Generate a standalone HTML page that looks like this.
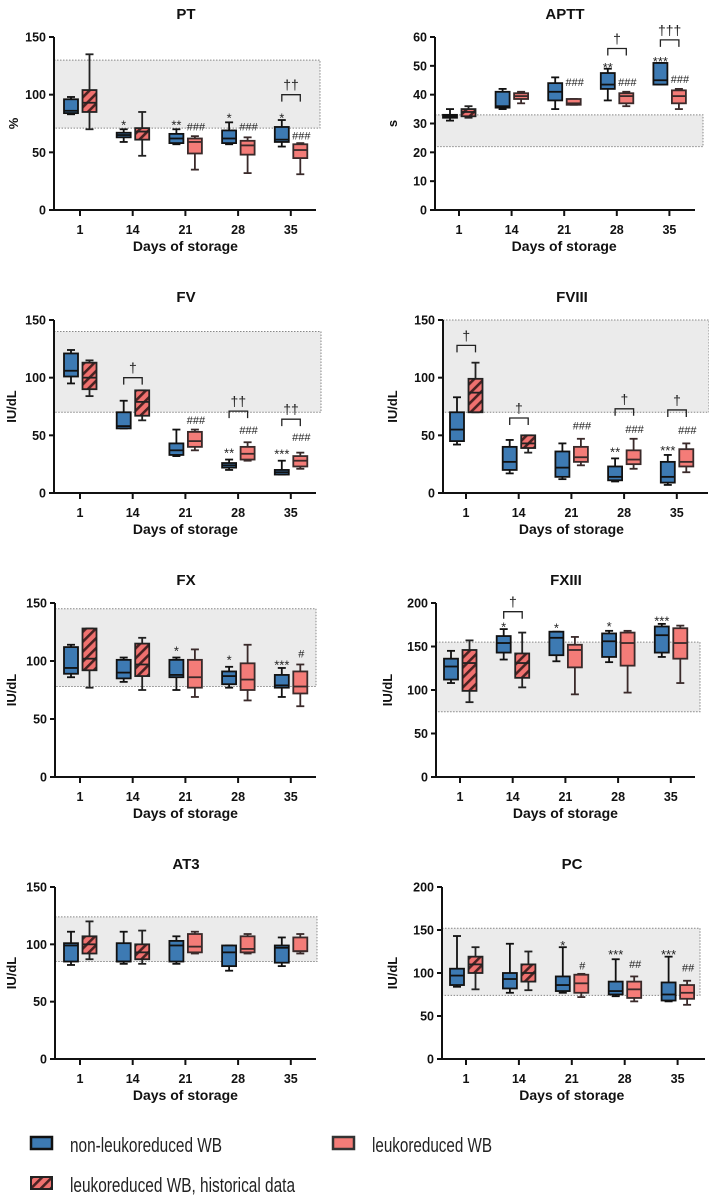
<!DOCTYPE html>
<html><head><meta charset="utf-8"><style>
html,body{margin:0;padding:0;background:#fff;}
svg{display:block;font-family:"Liberation Sans",Arial,sans-serif;}
</style></head><body>
<svg id="fig" width="709" height="1197" viewBox="0 0 709 1197" xmlns="http://www.w3.org/2000/svg">
<defs>
<pattern id="hatch" patternUnits="userSpaceOnUse" width="7" height="7" patternTransform="rotate(45)">
<rect width="7" height="7" fill="#f0716f"/><rect width="2.6" height="7" fill="#4a2222"/>
</pattern>
</defs>
<g id="panels"></g>
<g>
<rect x="31" y="1137" width="21" height="12" fill="#3d7ab3" stroke="#111" stroke-width="2.5"/>
<text x="70" y="1152" font-size="20" textLength="152" lengthAdjust="spacingAndGlyphs" fill="#222">non-leukoreduced WB</text>
<rect x="31" y="1177" width="21" height="12" fill="url(#hatch)" stroke="#222" stroke-width="2"/>
<text x="70" y="1192" font-size="20" textLength="225" lengthAdjust="spacingAndGlyphs" fill="#222">leukoreduced WB, historical data</text>
<rect x="333" y="1137" width="21" height="12" fill="#f47c78" stroke="#333" stroke-width="2.5"/>
<text x="372" y="1152" font-size="20" textLength="120" lengthAdjust="spacingAndGlyphs" fill="#222">leukoreduced WB</text>
</g>
</svg>
<script>
const days = ["1","14","21","28","35"];
// each box: [min, q1, median, q3, max]
const ptBlue = [[83,84,86,96,98],[59,63,65,67,70],[57,58,62,66,70],[57,58,62,69,76],[55,59,61,72,78]];
const ptRed = [[70,85,93,104,135],[47,61,68,71,85],[35,49,59,62,64],[32,48,56,60,63],[31,45,52,57,58]];
const apttBlue = [[31,32,32.5,33,35],[35,35.5,36,41,42],[35,38,41,44,46],[38,42,43.5,47.5,49],[43.5,43.5,45,51,51]];
const apttRed = [[32,32.5,34,35,36],[37,38.5,39.5,40.5,41],[36.5,36.5,37,38.5,38.5],[36,37,39.5,40.5,41],[35,37,39.5,41.5,42]];
const fvBlue = [[95,101,106,121,124],[56,56,58,70,80],[32,33,37,43,55],[20,22,24,26,29],[16,16,18,20,28]];
const fvRed = [[84,90,100,113,115],[63,67,79,89,89],[37,40,45,53,55],[28,29,34,40,44],[21,23,28,32,35]];
const fviiiBlue = [[42,45,55,70,83],[17,20,27,40,46],[12,14,22,36,43],[10,11,14,23,30],[7,9,14,27,33]];
const fviiiRed = [[70,70,87,99,113],[35,39,43,50,50],[24,27,31,40,47],[21,25,29,37,47],[18,23,27,38,43]];
const fxBlue = [[86,89,94,112,114],[82,85,90,101,103],[75,86,88,101,103],[77,80,87,91,95],[69,77,79,88,94]];
const fxRed = [[77,92,102,128,128],[75,87,97,115,120],[69,77,86,101,110],[66,75,84,98,114],[61,72,78,91,97]];
const fxiiiBlue = [[108,112,127,136,145],[135,143,154,162,170],[133,140,160,167,167],[132,138,156,165,168],[138,143,163,173,176]];
const fxiiiRed = [[86,99,131,146,157],[103,114,131,142,166],[95,126,146,152,161],[97,128,154,166,168],[108,136,154,171,174]];
const at3Blue = [[82,85,99,101,111],[83,85,85,101,111],[83,85,99,103,107],[77,81,93,99,99],[81,84,97,99,106]];
const at3Red = [[87,92,100,107,120],[83,87,93,100,112],[92,93,98,109,111],[92,93,96,107,109],[92,94,94,106,109]];
const pcBlue = [[84,86,97,105,143],[77,82,93,100,134],[77,79,86,96,130],[73,75,79,90,116],[67,68,75,89,119]];
const pcRed = [[81,100,110,119,130],[80,90,100,110,125],[72,77,88,98,99],[67,71,81,90,96],[63,70,77,86,91]];
// reference ranges [low, high]
const ptBand=[71,130], apttBand=[22,33], fvBand=[70,140], fviiiBand=[70,150], fxBand=[78,145], fxiiiBand=[75,155], at3Band=[85,124], pcBand=[74,152];
// annotations: [group, kind(s=blue,p=red,b=bracket), value, text]
const ptAnn=[[1,"s",75,"*"],[2,"s",75,"**"],[2,"p",69,"###"],[3,"s",81,"*"],[3,"p",69,"###"],[4,"s",81,"*"],[4,"p",61,"###"],[4,"b",100,"††"]];
const apttAnn=[[2,"p",43,"###"],[3,"s",50,"**"],[3,"p",43,"###"],[3,"b",56,"†"],[4,"s",52,"***"],[4,"p",44,"###"],[4,"b",59,"†††"]];
const fvAnn=[[1,"b",100,"†"],[2,"p",60,"###"],[3,"s",36,"**"],[3,"p",51,"###"],[3,"b",71,"††"],[4,"s",35,"***"],[4,"p",45,"###"],[4,"b",64,"††"]];
const fviiiAnn=[[0,"b",128,"†"],[1,"b",65,"†"],[2,"p",55,"###"],[3,"s",37,"**"],[3,"p",52,"###"],[3,"b",73,"†"],[4,"s",38,"***"],[4,"p",51,"###"],[4,"b",72,"†"]];
const fxAnn=[[2,"s",110,"*"],[3,"s",102,"*"],[4,"s",98,"***"],[4,"p",103,"#"]];
const fxiiiAnn=[[1,"s",174,"*"],[1,"b",190,"†"],[2,"s",173,"*"],[3,"s",175,"*"],[4,"s",181,"***"]];
const at3Ann=[];
const pcAnn=[[2,"s",134,"*"],[2,"p",104,"#"],[3,"s",123,"***"],[3,"p",106,"##"],[4,"s",123,"***"],[4,"p",102,"##"]];

const panels=[
 {id:"pt",title:"PT",ylab:"%",ymax:150,step:50,blue:ptBlue,red:ptRed,band:ptBand,ann:ptAnn,ax:54,t0:80,dx:52.7,xe:316,br:320,yt:37,yb:210,tx:186,lx:14,hatch:2},
 {id:"aptt",title:"APTT",ylab:"s",ymax:60,step:10,blue:apttBlue,red:apttRed,band:apttBand,ann:apttAnn,ax:435,t0:459,dx:52.6,xe:695,br:703,yt:37,yb:210,tx:565,lx:393,hatch:1},
 {id:"fv",title:"FV",ylab:"IU/dL",ymax:150,step:50,blue:fvBlue,red:fvRed,band:fvBand,ann:fvAnn,ax:54,t0:80,dx:52.7,xe:316,br:321,yt:320,yb:493,tx:186,lx:12,hatch:2},
 {id:"fviii",title:"FVIII",ylab:"IU/dL",ymax:150,step:50,blue:fviiiBlue,red:fviiiRed,band:fviiiBand,ann:fviiiAnn,ax:443,t0:466,dx:52.7,xe:708,br:709,yt:320,yb:493,tx:572,lx:393,hatch:2},
 {id:"fx",title:"FX",ylab:"IU/dL",ymax:150,step:50,blue:fxBlue,red:fxRed,band:fxBand,ann:fxAnn,ax:55,t0:80,dx:52.7,xe:316,br:316,yt:603,yb:777,tx:186,lx:12,hatch:2},
 {id:"fxiii",title:"FXIII",ylab:"IU/dL",ymax:200,step:50,blue:fxiiiBlue,red:fxiiiRed,band:fxiiiBand,ann:fxiiiAnn,ax:436,t0:460,dx:52.7,xe:695,br:700,yt:603,yb:777,tx:566,lx:388,hatch:2},
 {id:"at3",title:"AT3",ylab:"IU/dL",ymax:150,step:50,blue:at3Blue,red:at3Red,band:at3Band,ann:at3Ann,ax:55,t0:80,dx:52.7,xe:316,br:317,yt:887,yb:1059,tx:186,lx:12,hatch:2},
 {id:"pc",title:"PC",ylab:"IU/dL",ymax:200,step:50,blue:pcBlue,red:pcRed,band:pcBand,ann:pcAnn,ax:442,t0:466,dx:52.9,xe:705,br:700,yt:887,yb:1059,tx:572,lx:393,hatch:2}
];
const NS="http://www.w3.org/2000/svg";
function mk(tag,attrs,parent){const e=document.createElementNS(NS,tag);for(const k in attrs)e.setAttribute(k,attrs[k]);parent.appendChild(e);return e;}
const root=document.getElementById("panels");
panels.forEach(p=>{
 const g=mk("g",{},root);
 
 
 const y=v=>p.yb-(v/p.ymax)*(p.yb-p.yt);
 const x=i=>p.t0+i*p.dx;
 // band
 const band=mk("rect",{x:p.ax,y:y(p.band[1]),width:p.br-p.ax,height:y(p.band[0])-y(p.band[1]),fill:"#ebebeb",stroke:"#888","stroke-width":1,"stroke-dasharray":"1.5,1.5"},g);
 
 
 // title
 const t=mk("text",{x:p.tx,y:p.yt-18,"text-anchor":"middle","font-size":15,"font-weight":"bold",fill:"#111"},g);
 t.textContent=p.title;
 
 
 // y label
 const yl=mk("text",{x:0,y:0,"text-anchor":"middle","font-size":13,"font-weight":"bold",fill:"#111",transform:`translate(${p.lx+4},${(p.yt+p.yb)/2}) rotate(-90)`},g);
 yl.textContent=p.ylab;
 
 
 // axes
 const axY=mk("line",{x1:p.ax,y1:p.yt,x2:p.ax,y2:p.yb+1,stroke:"#111","stroke-width":2},g);
 
 
 const axX=mk("line",{x1:p.ax-1,y1:p.yb,x2:p.xe,y2:p.yb,stroke:"#111","stroke-width":2},g);
 
 
 for(let v=0;v<=p.ymax;v+=p.step){
  mk("line",{x1:p.ax-5,y1:y(v),x2:p.ax,y2:y(v),stroke:"#111","stroke-width":2},g);
  const tl=mk("text",{x:p.ax-8,y:y(v)+4.5,"text-anchor":"end","font-size":12.5,"font-weight":"bold",fill:"#111"},g);
  tl.textContent=v;
  
  
 }
 days.forEach((d,i)=>{
  mk("line",{x1:x(i),y1:p.yb,x2:x(i),y2:p.yb+6,stroke:"#111","stroke-width":2},g);
  const tl=mk("text",{x:x(i),y:p.yb+24,"text-anchor":"middle","font-size":12.5,"font-weight":"bold",fill:"#111"},g);
  tl.textContent=d;
  
  
 });
 const xt=mk("text",{x:(x(0)+x(4))/2,y:p.yb+41,"text-anchor":"middle","font-size":14,"font-weight":"bold",fill:"#111"},g);
 xt.textContent="Days of storage";
 
 
 // boxes
 const drawBox=(b,cx,fill,stroke,name)=>{
  const bg=mk("g",{},g);
  
  
  const w=14;
  mk("line",{x1:cx,y1:y(b[0]),x2:cx,y2:y(b[4]),stroke:stroke,"stroke-width":1.8},bg);
  mk("line",{x1:cx-4,y1:y(b[0]),x2:cx+4,y2:y(b[0]),stroke:stroke,"stroke-width":1.8},bg);
  mk("line",{x1:cx-4,y1:y(b[4]),x2:cx+4,y2:y(b[4]),stroke:stroke,"stroke-width":1.8},bg);
  mk("rect",{x:cx-w/2,y:y(b[3]),width:w,height:Math.max(1,y(b[1])-y(b[3])),fill:fill,stroke:stroke,"stroke-width":1.8},bg);
  mk("line",{x1:cx-w/2,y1:y(b[2]),x2:cx+w/2,y2:y(b[2]),stroke:stroke,"stroke-width":1.8},bg);
 };
 days.forEach((d,i)=>{
  drawBox(p.blue[i],x(i)-9,"#3d7ab3","#111","box-non-leukoreduced-day"+d);
  const hist=i<p.hatch;
  drawBox(p.red[i],x(i)+9.5,hist?"url(#hatch)":"#f47c78",hist?"#222":"#3a2a2a",(hist?"box-historical-day":"box-leukoreduced-day")+d);
 });
 // annotations
 p.ann.forEach(a=>{
  const [i,k,v,txt]=a;
  if(k==="b"){
   const x1=x(i)-9,x2=x(i)+9.5,yy=y(v);
   const br=mk("path",{d:`M${x1},${yy+7}V${yy}H${x2}V${yy+7}`,fill:"none",stroke:"#222","stroke-width":1.3},g);
   
   
   const tt=mk("text",{x:(x1+x2)/2,y:yy-5,"text-anchor":"middle","font-size":14,fill:"#222"},g);
   tt.textContent=txt;
   
   
  } else {
   const cx=k==="s"?x(i)-9:x(i)+10.5;
   const st=txt.indexOf("*")>=0;
   const tt=mk("text",{x:cx,y:y(v)+(st?6:0),"text-anchor":"middle","font-size":st?13:11,fill:"#222"},g);
   tt.textContent=txt;
   
   
  }
 });
});
</script>
</body></html>
